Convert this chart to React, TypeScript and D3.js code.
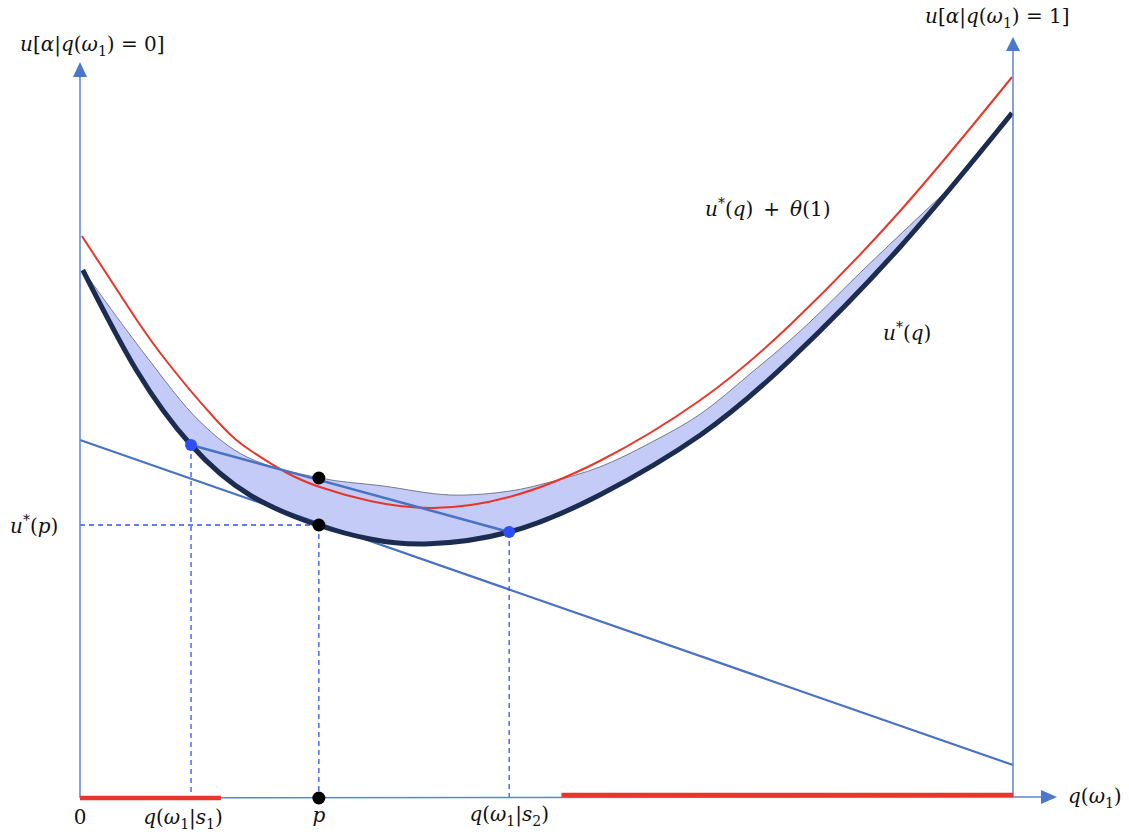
import * as d3 from 'd3';

const W = 1129;
const H = 834;

// q(ω1) on the horizontal axis, utility on the vertical one
const uStar: [number, number][] = [
  [0.003, 528], [0.061, 427], [0.119, 353], [0.182, 303], [0.255, 273],
  [0.311, 259], [0.37, 254], [0.46, 266], [0.557, 303], [0.665, 363],
  [0.761, 438], [0.879, 551], [0.999, 685],
];
const uStarTheta: [number, number][] = [
  [0.002, 562], [0.044, 502], [0.086, 445], [0.147, 377], [0.182, 348],
  [0.22, 326], [0.257, 311], [0.311, 297], [0.378, 290], [0.46, 301],
  [0.557, 337], [0.665, 398], [0.761, 473], [0.879, 587], [0.999, 721],
];
// upper edge of the shaded band
const envelope: [number, number][] = [
  [0.003, 528], [0.07, 443], [0.129, 376], [0.179, 341], [0.257, 320],
  [0.325, 312], [0.397, 303], [0.461, 307], [0.504, 316], [0.557, 331],
  [0.611, 355], [0.665, 384], [0.718, 424], [0.772, 467], [0.847, 535],
  [0.94, 617],
];
const tangent: [number, number][] = [[0, 358], [1, 33]];
const qS1 = 0.119;
const qP = 0.256;
const qS2 = 0.46;
const uS1 = 353;
const uP = 273;
const uS2 = 266;
const chordAtP = 320;
const redBars: [number, number, number][] = [[0, 0.151, 0], [0.516, 1, 3]];

type Seg = { t: string; i?: boolean; sub?: boolean; sup?: boolean };

const it = (t: string): Seg => ({ t, i: true });
const rm = (t: string): Seg => ({ t });
const sub = (t: string): Seg => ({ t, sub: true });
const sup = (t: string): Seg => ({ t, sup: true });

function MathText({ x, y, segs, size = 20, anchor = 'start' }: { x: number; y: number; segs: Seg[]; size?: number; anchor?: string }) {
  let shift = 0;
  return (
    <text x={x} y={y} fontFamily="'DejaVu Serif', serif" fontSize={size} fill="#111" textAnchor={anchor}>
      {segs.map((s, k) => {
        const target = s.sub ? 5 : s.sup ? -8 : 0;
        const dy = target - shift;
        shift = target;
        return (
          <tspan key={k} dy={dy} fontStyle={s.i ? 'italic' : 'normal'} fontSize={s.sub || s.sup ? size * 0.7 : size}>
            {s.t}
          </tspan>
        );
      })}
    </text>
  );
}

export default function App() {
  const x = d3.scaleLinear().domain([0, 1]).range([80, 1013]);
  const y = d3.scaleLinear().domain([0, 750]).range([798, 48]);
  const smooth = d3
    .line<[number, number]>()
    .x((d) => x(d[0]))
    .y((d) => y(d[1]))
    .curve(d3.curveNatural);
  const rough = d3
    .line<[number, number]>()
    .x((d) => x(d[0]))
    .y((d) => y(d[1]))
    .curve(d3.curveCatmullRom.alpha(0.5));
  const straight = d3
    .line<[number, number]>()
    .x((d) => x(d[0]))
    .y((d) => y(d[1]));

  const lower = uStar.slice().reverse();
  const shade = (rough(envelope) || '') + (smooth(lower) || '').replace(/^M/, 'L') + 'Z';

  const axis = '#5b86d6';
  const arrow = '#4a78cc';
  const dash = '#2f54f2';
  const x0 = x(0);
  const x1 = x(1);
  const y0 = y(0);

  return (
    <svg width={W} height={H} style={{ position: 'absolute', left: 0, top: 0, background: '#fff' }}>
      <path d={shade} fill="#c3cbf6" stroke="#5a6070" strokeWidth={0.8} />

      {/* supporting line at p */}
      <path d={straight(tangent) || ''} stroke="#4a72c4" strokeWidth={2.2} fill="none" />

      {/* guides */}
      <line x1={x0} x2={x(qP)} y1={y(uP)} y2={y(uP)} stroke={dash} strokeWidth={1.3} strokeDasharray="5 4" />
      <line x1={x(qS1)} x2={x(qS1)} y1={y(uS1)} y2={y0} stroke={dash} strokeWidth={1.3} strokeDasharray="5 4" />
      <line x1={x(qP)} x2={x(qP)} y1={y(uP)} y2={y0} stroke={dash} strokeWidth={1.3} strokeDasharray="5 4" />
      <line x1={x(qS2)} x2={x(qS2)} y1={y(uS2)} y2={y0} stroke={dash} strokeWidth={1.3} strokeDasharray="5 4" />

      <path d={smooth(uStarTheta) || ''} stroke="#e8372a" strokeWidth={2} fill="none" />

      {/* chord between posteriors */}
      <line x1={x(qS1)} y1={y(uS1)} x2={x(qS2)} y2={y(uS2)} stroke="#4a72c4" strokeWidth={2.5} />

      <path d={smooth(uStar) || ''} stroke="#1c2b50" strokeWidth={5} fill="none" />

      {/* axes */}
      <line x1={x0} x2={x0} y1={y0} y2={76} stroke={axis} strokeWidth={1.5} />
      <path d={`M${x0},62 L${x0 - 7},77 L${x0 + 7},77 Z`} fill={arrow} />
      <line x1={x1} x2={x1} y1={y0 - 1} y2={50} stroke={axis} strokeWidth={1.5} />
      <path d={`M${x1},37 L${x1 - 7},51 L${x1 + 7},51 Z`} fill={arrow} />
      <line x1={x0} x2={1041} y1={y0} y2={y0 - 1} stroke={axis} strokeWidth={1.5} />
      <path d={`M1057,${y0 - 1} L1041,${y0 - 8} L1041,${y0 + 6} Z`} fill={arrow} />

      {redBars.map(([a, b, u], k) => (
        <line key={k} x1={x(a)} x2={x(b)} y1={y(u)} y2={y(u)} stroke="#e8372a" strokeWidth={4.5} />
      ))}

      <circle cx={x(qS1)} cy={y(uS1)} r={6} fill="#2d4ff5" />
      <circle cx={x(qS2)} cy={y(uS2)} r={6} fill="#2d4ff5" />
      <circle cx={x(qP)} cy={y(chordAtP)} r={6.5} fill="#000" />
      <circle cx={x(qP)} cy={y(uP)} r={6.5} fill="#000" />
      <circle cx={x(qP)} cy={y0} r={6.5} fill="#000" />

      <MathText x={20} y={51} segs={[it('u'), rm('['), it('α'), rm('|'), it('q'), rm('('), it('ω'), sub('1'), rm(') = 0]')]} />
      <MathText x={925} y={23} segs={[it('u'), rm('['), it('α'), rm('|'), it('q'), rm('('), it('ω'), sub('1'), rm(') = 1]')]} />
      <MathText x={705} y={216} segs={[it('u'), sup('*'), rm('('), it('q'), rm(')\u2002+\u2002'), it('θ'), rm('(1)')]} />
      <MathText x={883} y={340} segs={[it('u'), sup('*'), rm('('), it('q'), rm(')')]} />
      <MathText x={10} y={533} segs={[it('u'), sup('*'), rm('('), it('p'), rm(')')]} />
      <MathText x={x0} y={824} anchor="middle" segs={[rm('0')]} />
      <MathText x={x(qS1) - 8} y={824} anchor="middle" segs={[it('q'), rm('('), it('ω'), sub('1'), rm('|'), it('s'), sub('1'), rm(')')]} />
      <MathText x={x(qP)} y={822} anchor="middle" segs={[it('p')]} />
      <MathText x={x(qS2)} y={821} anchor="middle" segs={[it('q'), rm('('), it('ω'), sub('1'), rm('|'), it('s'), sub('2'), rm(')')]} />
      <MathText x={1068} y={803} segs={[it('q'), rm('('), it('ω'), sub('1'), rm(')')]} />
    </svg>
  );
}
